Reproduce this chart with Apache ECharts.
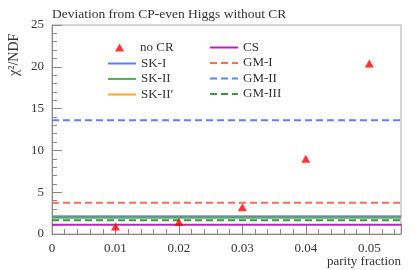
<!DOCTYPE html>
<html>
<head>
<meta charset="utf-8">
<script src="https://cdn.jsdelivr.net/npm/echarts@6/dist/echarts.min.js"></script>
<style>
html,body{margin:0;padding:0;background:#fff;}
#c{width:415px;height:270px;}
</style>
</head>
<body>
<div id="c"></div>
<script>
var xPoints = [0.01, 0.02, 0.03, 0.04, 0.05];
var noCR = [0.9, 1.45, 3.2, 9.0, 20.4];
var xRange = [0, 0.055];
var lineNames = ['SK-II\u2032', 'SK-I', 'SK-II', 'CS', 'GM-I', 'GM-II', 'GM-III'];
var lineValues = [2.1, 2.1, 1.95, 1.1, 3.75, 13.6, 1.65];
var lineColors = ['#ffa726', '#5a7dff', '#55b255', '#c020c0', '#ff6a50', '#5a82ff', '#3a9a3a'];
var lineDashed = [false, false, false, false, true, true, true];
var yTicks = [0, 5, 10, 15, 20, 25];
var xTicks = [0, 0.01, 0.02, 0.03, 0.04, 0.05];

var FONT = 'Liberation Serif';
var series = [];
lineNames.forEach(function (n, i) {
  series.push({
    name: n, type: 'line', symbol: 'none', silent: true,
    data: xRange.map(function (x) { return [x, lineValues[i]]; }),
    lineStyle: { color: lineColors[i], width: 2, type: lineDashed[i] ? [7, 4] : 'solid' },
    itemStyle: { color: lineColors[i] },
    z: lineDashed[i] ? 3 : 2
  });
});
series.push({
  name: 'no CR', type: 'scatter', symbol: 'triangle', symbolSize: [9, 8],
  data: xPoints.map(function (x, i) { return [x, noCR[i]]; }),
  itemStyle: { color: '#ff0000' }, z: 5
});

var legText = { fontFamily: FONT, fontSize: 13, color: '#333' };
var chart = echarts.init(document.getElementById('c'), null, { renderer: 'canvas' });
chart.setOption({
  animation: false,
  backgroundColor: '#fff',
  textStyle: { fontFamily: FONT },
  grid: { left: 52, right: 14, top: 25, bottom: 36, show: true, borderColor: '#aaa', borderWidth: 1 },
  title: {
    text: 'Deviation from CP-even Higgs without CR', left: 47, top: 2,
    textStyle: { fontFamily: FONT, fontSize: 13.5, fontWeight: 'normal', color: '#333' }
  },
  legend: [{
    data: ['no CR'], icon: 'triangle',
    orient: 'vertical', left: 110, top: 36, itemWidth: 9, itemHeight: 8,
    itemStyle: { color: '#ff0000' },
    textStyle: Object.assign({ padding: [0, 0, 0, 11] }, legText), selectedMode: false
  }, {
    data: ['SK-I', 'SK-II', 'SK-II\u2032'],
    orient: 'vertical', left: 102, top: 52, itemWidth: 28, itemHeight: 12, itemGap: 2.5,
    itemStyle: { opacity: 0 },
    textStyle: legText, selectedMode: false
  }, {
    data: ['CS', 'GM-I', 'GM-II', 'GM-III'],
    orient: 'vertical', left: 204, top: 36, itemWidth: 28, itemHeight: 12, itemGap: 2.5,
    itemStyle: { opacity: 0 },
    textStyle: legText, selectedMode: false
  }],
  xAxis: {
    type: 'value', min: xTicks[0], max: xRange[1], interval: 0.01,
    axisLine: { lineStyle: { color: '#888' } },
    axisTick: { inside: true, length: 10, lineStyle: { color: '#888' } },
    minorTick: { show: true, splitNumber: 5, length: 5, lineStyle: { color: '#888' } },
    splitLine: { show: false },
    axisLabel: { fontFamily: FONT, fontSize: 13, color: '#333', margin: 8, showMaxLabel: false,
      formatter: function (v) { return xTicks.indexOf(+v.toFixed(3)) >= 0 ? String(+v.toFixed(3)) : ''; } }
  },
  yAxis: {
    type: 'value', min: yTicks[0], max: yTicks[yTicks.length - 1], interval: 5,
    axisLine: { show: true, lineStyle: { color: '#888' } },
    axisTick: { show: true, inside: true, length: 10, lineStyle: { color: '#888' } },
    minorTick: { show: true, splitNumber: 5, length: 5, lineStyle: { color: '#888' } },
    splitLine: { show: false },
    axisLabel: { fontFamily: FONT, fontSize: 13, color: '#333', margin: 8 }
  },
  graphic: [{
    type: 'text', x: 14, y: 76, rotation: Math.PI / 2,
    style: { text: '\u03c7\u00b2/NDF', fontFamily: FONT, fontSize: 14, fill: '#333', textAlign: 'left', textVerticalAlign: 'middle' }
  }, {
    type: 'text', right: 14, top: 255,
    style: { text: 'parity fraction', fontFamily: FONT, fontSize: 13, fill: '#333' }
  }],
  series: series
});
</script>
</body>
</html>
